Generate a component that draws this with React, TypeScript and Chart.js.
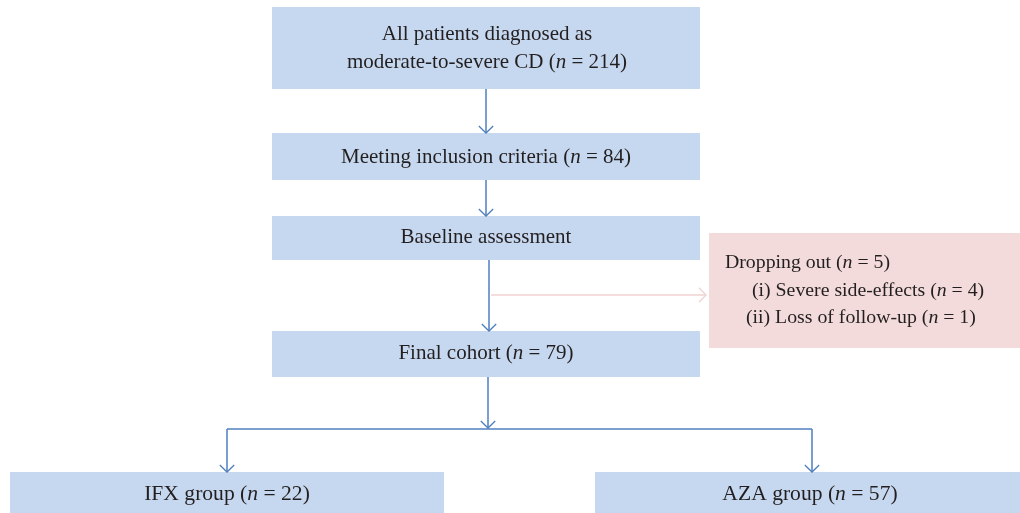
import React, { useEffect, useRef } from "react";
import { Chart, registerables } from "chart.js";

Chart.register(...registerables);

// ---- flowchart content ----
const nodeNames = ["all", "inclusion", "baseline", "final", "dropout", "ifx", "aza"];
const nodeLines: string[][] = [
  ["All patients diagnosed as", "moderate-to-severe CD (*n* = 214)"],
  ["Meeting inclusion criteria (*n* = 84)"],
  ["Baseline assessment"],
  ["Final cohort (*n* = 79)"],
  ["Dropping out (*n* = 5)", "(i) Severe side-effects (*n* = 4)", "(ii) Loss of follow-up (*n* = 1)"],
  ["IFX group (*n* = 22)"],
  ["AZA group (*n* = 57)"],
];
const nodeKinds = ["main", "main", "main", "main", "exclude", "main", "main"];

// ---- layout (chart units = px on a 1020 x 513 plane) ----
const boxLeft = [272, 272, 272, 272, 709, 10, 595];
const boxRight = [700, 700, 700, 700, 1020, 444, 1020];
const boxTop = [7, 133, 216, 331, 233, 472, 472];
const boxBottom = [89, 180, 260, 377, 348, 513, 513];
const textX = [487, 486, 486, 486, 0, 227, 810];
const textBaselines: number[][] = [[40, 68], [163], [243], [359], [268, 296, 323], [500], [500]];
const dropoutLineX = [725, 752, 746];
const fontSizes = [21, 21, 21, 21, 19.8, 21.6, 21.6];

// connectors
const connFromX = [486, 486, 489, 488, 227, 227, 812, 491];
const connFromY = [89, 180, 260, 377, 429, 429, 429, 295];
const connToX = [486, 486, 489, 488, 812, 227, 812, 706];
const connToY = [133, 216, 331, 428, 429, 472, 472, 295];
const connArrow = [true, true, true, true, false, true, true, true];
const connKind = ["main", "main", "main", "main", "main", "main", "main", "exclude"];

const COLORS = {
  mainFill: "#c6d8ef",
  excludeFill: "#f2dbda",
  mainLine: "#4f7fbf",
  excludeLine: "#f0d2d0",
  text: "#231f20",
};
const FONT = "'Liberation Serif', 'DejaVu Serif', serif";

function richSegments(s: string) {
  return s.split("*").map((t, i) => ({ t, italic: i % 2 === 1 }));
}

function drawRich(ctx: CanvasRenderingContext2D, s: string, x: number, y: number, size: number, align: "center" | "left") {
  const segs = richSegments(s);
  const fontFor = (it: boolean) => `${it ? "italic " : ""}${size}px ${FONT}`;
  let total = 0;
  const widths = segs.map((sg) => {
    ctx.font = fontFor(sg.italic);
    const w = ctx.measureText(sg.t).width;
    total += w;
    return w;
  });
  let cx = align === "center" ? x - total / 2 : x;
  ctx.textAlign = "left";
  ctx.textBaseline = "alphabetic";
  ctx.fillStyle = COLORS.text;
  segs.forEach((sg, i) => {
    ctx.font = fontFor(sg.italic);
    ctx.fillText(sg.t, cx, y);
    cx += widths[i];
  });
}

const flowPlugin = {
  id: "flowchart",
  beforeDatasetsDraw(chart: any) {
    const { ctx, scales } = chart;
    const xs = scales.x;
    const ys = scales.y;
    ctx.save();
    nodeNames.forEach((_, i) => {
      const x0 = xs.getPixelForValue(boxLeft[i]);
      const x1 = xs.getPixelForValue(boxRight[i]);
      const y0 = ys.getPixelForValue(boxTop[i]);
      const y1 = ys.getPixelForValue(boxBottom[i]);
      ctx.fillStyle = nodeKinds[i] === "main" ? COLORS.mainFill : COLORS.excludeFill;
      ctx.fillRect(x0, y0, x1 - x0, y1 - y0);
    });
    ctx.restore();
  },
  afterDatasetsDraw(chart: any) {
    const { ctx, scales } = chart;
    const xs = scales.x;
    const ys = scales.y;
    ctx.save();
    connFromX.forEach((_, i) => {
      if (!connArrow[i]) return;
      const ax = xs.getPixelForValue(connFromX[i]);
      const ay = ys.getPixelForValue(connFromY[i]);
      const bx = xs.getPixelForValue(connToX[i]);
      const by = ys.getPixelForValue(connToY[i]);
      const ang = Math.atan2(by - ay, bx - ax);
      const len = 10;
      const spread = 0.8;
      ctx.strokeStyle = connKind[i] === "main" ? COLORS.mainLine : COLORS.excludeLine;
      ctx.lineWidth = 1.3;
      ctx.beginPath();
      ctx.moveTo(bx - len * Math.cos(ang - spread), by - len * Math.sin(ang - spread));
      ctx.lineTo(bx, by);
      ctx.lineTo(bx - len * Math.cos(ang + spread), by - len * Math.sin(ang + spread));
      ctx.stroke();
    });
    nodeNames.forEach((_, i) => {
      nodeLines[i].forEach((line, j) => {
        const y = ys.getPixelForValue(textBaselines[i][j]);
        if (nodeKinds[i] === "exclude") {
          drawRich(ctx, line, xs.getPixelForValue(dropoutLineX[j]), y, fontSizes[i], "left");
        } else {
          drawRich(ctx, line, xs.getPixelForValue(textX[i]), y, fontSizes[i], "center");
        }
      });
    });
    ctx.restore();
  },
};

export default function App() {
  const ref = useRef<HTMLCanvasElement | null>(null);
  useEffect(() => {
    document.body.style.margin = "0";
    if (!ref.current) return;
    const datasets = connFromX.map((_, i) => ({
      label: `c${i}`,
      data: [
        { x: connFromX[i], y: connFromY[i] },
        { x: connToX[i], y: connToY[i] },
      ],
      showLine: true,
      borderColor: connKind[i] === "main" ? COLORS.mainLine : COLORS.excludeLine,
      borderWidth: connKind[i] === "main" ? 1.5 : 1.3,
      pointRadius: 0,
      fill: false,
    }));
    const chart = new Chart(ref.current, {
      type: "scatter",
      data: { datasets },
      options: {
        animation: false,
        responsive: true,
        maintainAspectRatio: false,
        layout: { padding: 0 },
        plugins: { legend: { display: false }, tooltip: { enabled: false } },
        events: [],
        scales: {
          x: { type: "linear", min: 0, max: 1020, display: false },
          y: { type: "linear", min: 0, max: 513, reverse: true, display: false },
        },
      },
      plugins: [flowPlugin],
    });
    return () => chart.destroy();
  }, []);
  return (
    <div style={{ width: 1020, height: 513, position: "relative", background: "#ffffff" }}>
      <canvas ref={ref} />
    </div>
  );
}
